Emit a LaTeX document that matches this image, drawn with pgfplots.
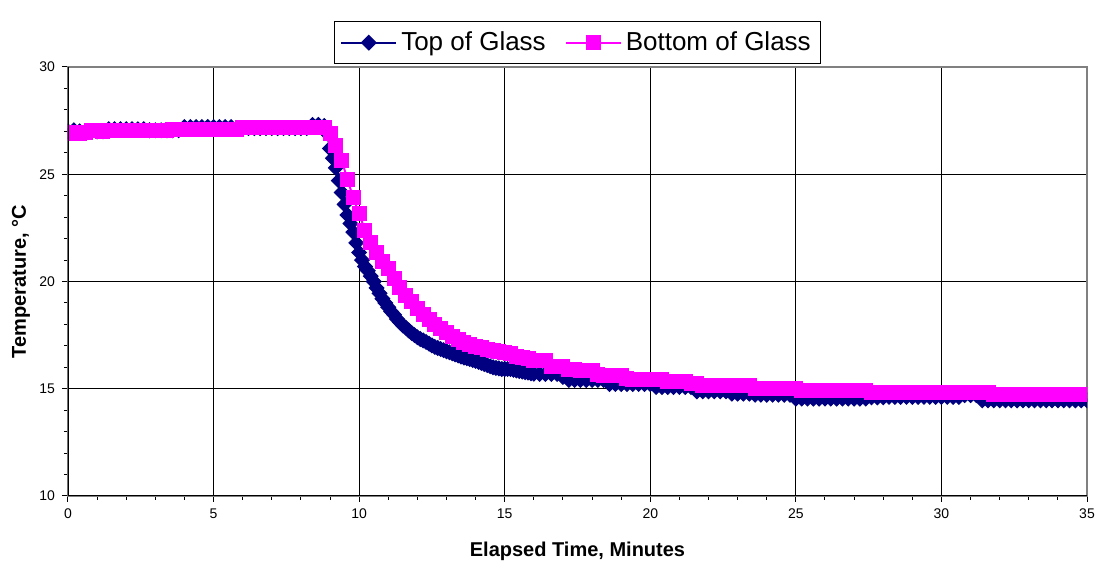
\documentclass[border=0pt]{standalone}
\usepackage{pgfplots}
\pgfplotsset{compat=1.18}
\usepackage{pgfplotstable}
\usepackage{fontspec}
\setmainfont{Liberation Sans}
\definecolor{navyb}{RGB}{0,0,128}
\definecolor{mag}{RGB}{255,0,255}

% Top of Glass
\pgfplotstableread{
t v
0.0 27.00
0.2 27.05
0.4 27.00
0.6 27.00
0.8 27.00
1.0 27.00
1.2 27.00
1.4 27.10
1.6 27.10
1.8 27.10
2.0 27.10
2.2 27.10
2.4 27.10
2.6 27.10
2.8 27.05
3.0 27.05
3.2 27.05
3.4 27.05
3.6 27.05
3.8 27.05
4.0 27.20
4.2 27.20
4.4 27.20
4.6 27.20
4.8 27.20
5.0 27.20
5.2 27.20
5.4 27.20
5.6 27.20
5.8 27.15
6.0 27.15
6.2 27.15
6.4 27.15
6.6 27.15
6.8 27.15
7.0 27.15
7.2 27.15
7.4 27.15
7.6 27.15
7.8 27.15
8.0 27.15
8.2 27.15
8.4 27.30
8.6 27.30
8.8 27.25
8.9 26.90
9.0 26.20
9.1 25.75
9.2 25.30
9.3 24.70
9.4 24.15
9.5 23.60
9.6 23.10
9.7 22.70
9.8 22.30
9.9 21.80
10.0 21.35
10.1 21.00
10.2 20.70
10.3 20.50
10.4 20.25
10.5 20.00
10.6 19.70
10.7 19.45
10.8 19.20
10.9 19.00
11.0 18.80
11.1 18.60
11.2 18.45
11.3 18.25
11.4 18.10
11.5 17.95
11.6 17.85
11.7 17.72
11.8 17.60
11.9 17.50
12.0 17.40
12.1 17.32
12.2 17.25
12.3 17.18
12.4 17.10
12.5 17.02
12.6 16.95
12.7 16.90
12.8 16.85
12.9 16.80
13.0 16.75
13.1 16.70
13.2 16.65
13.3 16.60
13.4 16.55
13.5 16.50
13.6 16.45
13.7 16.42
13.8 16.38
13.9 16.34
14.0 16.30
14.1 16.25
14.2 16.20
14.3 16.15
14.4 16.10
14.5 16.05
14.6 16.00
14.7 15.97
14.8 15.95
14.9 15.92
15.0 15.92
15.1 15.92
15.2 15.92
15.3 15.88
15.4 15.85
15.5 15.82
15.6 15.80
15.7 15.77
15.8 15.75
15.9 15.72
16.0 15.70
16.2 15.69
16.4 15.69
16.6 15.69
16.8 15.69
17.0 15.55
17.2 15.41
17.4 15.41
17.6 15.41
17.8 15.41
18.0 15.41
18.2 15.41
18.4 15.41
18.6 15.22
18.8 15.22
19.0 15.22
19.2 15.22
19.4 15.22
19.6 15.22
19.8 15.22
20.0 15.22
20.2 15.08
20.4 15.08
20.6 15.08
20.8 15.08
21.0 15.08
21.2 15.08
21.4 15.08
21.6 14.88
21.8 14.88
22.0 14.88
22.2 14.88
22.4 14.88
22.6 14.88
22.8 14.77
23.0 14.77
23.2 14.77
23.4 14.77
23.6 14.72
23.8 14.72
24.0 14.72
24.2 14.72
24.4 14.72
24.6 14.72
24.8 14.72
25.0 14.54
25.2 14.54
25.4 14.54
25.6 14.54
25.8 14.54
26.0 14.54
26.2 14.54
26.4 14.54
26.6 14.54
26.8 14.54
27.0 14.54
27.2 14.54
27.4 14.54
27.6 14.60
27.8 14.60
28.0 14.60
28.2 14.62
28.4 14.62
28.6 14.62
28.8 14.62
29.0 14.62
29.2 14.62
29.4 14.62
29.6 14.62
29.8 14.62
30.0 14.62
30.2 14.62
30.4 14.62
30.6 14.62
30.8 14.70
31.0 14.70
31.2 14.70
31.4 14.46
31.6 14.46
31.8 14.46
32.0 14.46
32.2 14.46
32.4 14.46
32.6 14.46
32.8 14.46
33.0 14.46
33.2 14.46
33.4 14.46
33.6 14.46
33.8 14.46
34.0 14.46
34.2 14.46
34.4 14.46
34.6 14.46
34.8 14.46
35.0 14.46
}\datatop

% Bottom of Glass
\pgfplotstableread{
t v
0.0 26.90
0.2 26.95
0.4 26.90
0.6 26.95
0.8 27.05
1.0 27.05
1.2 27.00
1.4 27.05
1.6 27.05
1.8 27.05
2.0 27.05
2.2 27.05
2.4 27.05
2.6 27.05
2.8 27.05
3.0 27.05
3.2 27.05
3.4 27.05
3.6 27.10
3.8 27.10
4.0 27.10
4.2 27.10
4.4 27.10
4.6 27.10
4.8 27.10
5.0 27.10
5.2 27.10
5.4 27.10
5.6 27.10
5.8 27.10
6.0 27.20
6.2 27.20
6.4 27.20
6.6 27.20
6.8 27.20
7.0 27.20
7.2 27.20
7.4 27.20
7.6 27.20
7.8 27.20
8.0 27.20
8.2 27.20
8.4 27.20
8.6 27.20
8.8 27.20
9.0 26.90
9.2 26.35
9.4 25.65
9.6 24.75
9.8 23.90
10.0 23.15
10.2 22.40
10.4 21.80
10.6 21.35
10.8 20.95
11.0 20.60
11.2 20.15
11.4 19.70
11.6 19.35
11.8 19.05
12.0 18.72
12.2 18.45
12.4 18.22
12.6 18.00
12.8 17.80
13.0 17.62
13.2 17.45
13.4 17.28
13.6 17.15
13.8 17.05
14.0 16.98
14.2 16.92
14.4 16.85
14.6 16.80
14.8 16.72
15.0 16.69
15.2 16.65
15.4 16.50
15.6 16.45
15.8 16.41
16.0 16.32
16.2 16.32
16.4 16.32
16.6 16.04
16.8 16.04
17.0 16.04
17.2 15.90
17.4 15.90
17.6 15.85
17.8 15.85
18.0 15.85
18.2 15.66
18.4 15.62
18.6 15.62
18.8 15.62
19.0 15.62
19.2 15.48
19.4 15.43
19.6 15.43
19.8 15.43
20.0 15.43
20.2 15.43
20.4 15.43
20.6 15.34
20.8 15.34
21.0 15.34
21.2 15.34
21.4 15.24
21.6 15.24
21.8 15.15
22.0 15.15
22.2 15.15
22.4 15.15
22.6 15.15
22.8 15.15
23.0 15.15
23.2 15.15
23.4 15.15
23.6 15.01
23.8 15.01
24.0 15.01
24.2 15.01
24.4 15.01
24.6 15.01
24.8 15.01
25.0 15.01
25.2 14.92
25.4 14.92
25.6 14.92
25.8 14.92
26.0 14.92
26.2 14.92
26.4 14.92
26.6 14.92
26.8 14.92
27.0 14.92
27.2 14.92
27.4 14.92
27.6 14.83
27.8 14.83
28.0 14.83
28.2 14.83
28.4 14.83
28.6 14.83
28.8 14.83
29.0 14.83
29.2 14.83
29.4 14.83
29.6 14.83
29.8 14.83
30.0 14.83
30.2 14.83
30.4 14.83
30.6 14.83
30.8 14.83
31.0 14.83
31.2 14.83
31.4 14.83
31.6 14.83
31.8 14.75
32.0 14.75
32.2 14.75
32.4 14.75
32.6 14.75
32.8 14.75
33.0 14.75
33.2 14.75
33.4 14.75
33.6 14.75
33.8 14.75
34.0 14.75
34.2 14.75
34.4 14.75
34.6 14.75
34.8 14.75
35.0 14.75
}\databot

\begin{document}
\begin{tikzpicture}
\useasboundingbox (-34pt,-35.5pt) rectangle (517pt,248pt);
\begin{axis}[
  scale only axis,
  width=509.5pt, height=214.5pt,
  xmin=0, xmax=35, ymin=10, ymax=30,
  xtick={0,5,...,35}, ytick={10,15,...,30},
  minor x tick num=4, minor y tick num=4,
  tick align=outside, tick pos=left,
  major tick length=3pt, minor tick length=2pt,
  tick style={black, line width=0.5pt},
  grid=major,
  major grid style={black, line width=0.5pt},
  axis line style={draw=gray, line width=1pt},
  clip marker paths=true,
  ticklabel style={font=\fontsize{7pt}{8pt}\selectfont},
  /pgf/number format/assume math mode=true,
  xlabel={Elapsed Time, Minutes},
  ylabel={Temperature, °C},
  label style={font=\fontsize{10pt}{12pt}\selectfont\bfseries},
  xlabel style={at={(axis description cs:0.5,0)}, anchor=base, yshift=-30.5pt},
  ylabel style={at={(axis description cs:0,0.5)}, rotate=0, anchor=base, yshift=21pt},
  legend columns=2,
  legend style={at={(axis description cs:0.5,1)}, anchor=south, yshift=1.5pt,
    draw=black, font=\fontsize{13pt}{15pt}\selectfont,
    inner xsep=3pt, inner ysep=3pt,
    /tikz/every even column/.append style={column sep=7.5pt}},
  legend image code/.code={\draw[mark repeat=2,mark phase=2] plot coordinates {(0pt,0pt) (13.75pt,0pt) (27.5pt,0pt)};},
]
\addplot[navyb, line width=1pt, mark=square*, mark size=2.6pt,
  mark options={rotate=45, fill=navyb, draw=navyb, line width=0.5pt}]
  table[x=t, y=v] {\datatop};
\addlegendentry{Top of Glass}
\addplot[mag, line width=1pt, mark=square*, mark size=3.5pt,
  mark options={fill=mag, draw=mag, line width=0.5pt}]
  table[x=t, y=v] {\databot};
\addlegendentry{Bottom of Glass}
\draw[black, line width=1pt] (rel axis cs:0,1) -- (rel axis cs:0,0) -- (rel axis cs:1,0);
\end{axis}
\end{tikzpicture}
\end{document}
